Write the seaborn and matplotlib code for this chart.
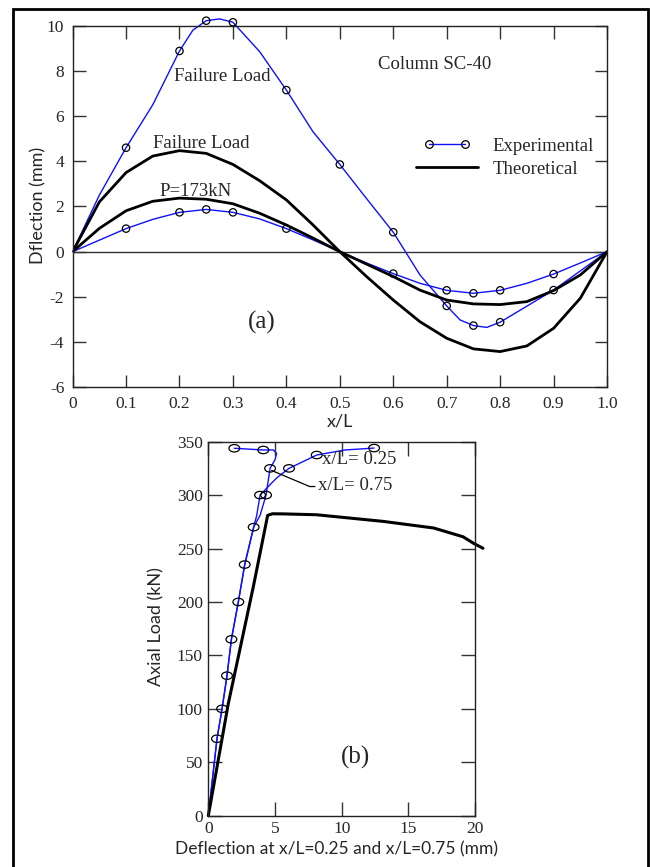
import matplotlib
matplotlib.use("Agg")
import matplotlib.pyplot as plt
import seaborn as sns
from matplotlib.lines import Line2D
from matplotlib.legend_handler import HandlerLine2DCompound
from matplotlib.patches import Rectangle
from matplotlib.path import Path
from matplotlib.transforms import Affine2D

# (a) 柱 SC-40 沿長度的撓度分佈
x_theo = [0, 0.05, 0.1, 0.15, 0.2, 0.25, 0.3, 0.35, 0.4, 0.45, 0.5,
          0.55, 0.6, 0.65, 0.7, 0.75, 0.8, 0.85, 0.9, 0.95, 1.0]
theo_fail = [0, 2.2, 3.5, 4.23, 4.47, 4.35, 3.86, 3.14, 2.29, 1.18, 0,
             -1.1, -2.14, -3.1, -3.83, -4.3, -4.42, -4.17, -3.39, -2.06, 0]
theo_173 = [0, 1.03, 1.81, 2.23, 2.37, 2.32, 2.12, 1.7, 1.18, 0.6, 0,
            -0.55, -1.1, -1.7, -2.14, -2.31, -2.34, -2.21, -1.72, -1.03, 0]

x_exp_fail = [0, 0.05, 0.1, 0.15, 0.2, 0.225, 0.25, 0.275, 0.3, 0.35, 0.4, 0.45, 0.5,
              0.55, 0.6, 0.65, 0.7, 0.725, 0.75, 0.775, 0.8, 0.85, 0.9, 0.95, 1.0]
exp_fail = [0, 2.5, 4.6, 6.5, 8.88, 9.8, 10.22, 10.3, 10.15, 8.85, 7.15, 5.3, 3.86,
            2.35, 0.86, -1.03, -2.4, -3.02, -3.27, -3.35, -3.12, -2.41, -1.7, -0.85, 0]
mk_fail_x = [0.1, 0.2, 0.25, 0.3, 0.4, 0.5, 0.6, 0.7, 0.75, 0.8, 0.9]
mk_fail_y = [4.6, 8.88, 10.22, 10.15, 7.15, 3.86, 0.86, -2.4, -3.27, -3.12, -1.7]

x_exp_173 = [0, 0.1, 0.15, 0.2, 0.25, 0.3, 0.35, 0.4, 0.45, 0.5,
             0.55, 0.6, 0.65, 0.7, 0.75, 0.8, 0.85, 0.9, 0.95, 1.0]
exp_173 = [0, 1.02, 1.43, 1.74, 1.87, 1.74, 1.45, 1.02, 0.52, 0,
           -0.5, -0.97, -1.4, -1.71, -1.84, -1.71, -1.4, -0.99, -0.5, 0]
mk_173_x = [0.1, 0.2, 0.25, 0.3, 0.4, 0.6, 0.7, 0.75, 0.8, 0.9]
mk_173_y = [1.02, 1.74, 1.87, 1.74, 1.02, -0.97, -1.71, -1.84, -1.71, -0.99]

xl_ticks = [0, 0.1, 0.2, 0.3, 0.4, 0.5, 0.6, 0.7, 0.8, 0.9, 1.0]
xl_labels = ["0", "0.1", "0.2", "0.3", "0.4", "0.5", "0.6", "0.7", "0.8", "0.9", "1.0"]

# (b) 軸向載重 vs 撓度
load_a = [0, 72, 100, 131, 165, 200, 235, 270, 281, 300, 316, 325, 337.5, 342.2, 344]
defl_a = [0, 0.65, 1.03, 1.4, 1.73, 2.25, 2.73, 3.4, 3.63, 3.88, 5.12, 6.05, 8.13, 10.25, 12.43]
load_b = [0, 72, 100, 131, 165, 200, 235, 270, 281, 300, 325, 333, 339, 342.2, 342.2, 343.8]
defl_b = [0, 0.65, 1.03, 1.4, 1.73, 2.25, 2.73, 3.4, 3.88, 4.33, 4.63, 5.0, 5.12, 4.88, 4.12, 1.95]
mk_defl = [0.65, 1.03, 1.4, 1.73, 2.25, 2.73, 3.4, 3.88, 4.33, 4.63, 6.05, 8.13, 12.43, 4.12, 1.95]
mk_load = [72, 100, 131, 165, 200, 235, 270, 300, 300, 325, 325, 337.5, 344, 342.2, 343.8]
theo_defl = [0, 1.5, 3.37, 4.45, 4.8, 5.6, 8.1, 10.6, 13.1, 16.9, 19.1, 19.9, 20.6]
theo_load = [0, 105, 214, 281, 282.5, 282.4, 281.6, 278.5, 275.4, 269.2, 261, 254.8, 250.2]

SERIF = "Liberation Serif"
SANS = "Lato"

sns.set_style("ticks")
plt.rcParams["font.family"] = [SERIF, "DejaVu Sans"]
plt.rcParams["axes.edgecolor"] = "#222222"
plt.rcParams["axes.linewidth"] = 1.0
plt.rcParams["axes.unicode_minus"] = False

fig = plt.figure(figsize=(6.5, 8.67), dpi=100)

# ---------- (a) ----------
ax1 = fig.add_axes([0.1117, 0.5533, 0.8222, 0.4171])
ax1.axhline(0, color="#333333", lw=1.0, zorder=1)
sns.lineplot(x=x_exp_fail, y=exp_fail, ax=ax1, color="#1010ff", lw=1.0,
             sort=False, estimator=None, legend=False)
ax1.lines[-1].set_clip_on(False)
sns.lineplot(x=x_exp_173, y=exp_173, ax=ax1, color="#1010ff", lw=1.0,
             sort=False, estimator=None, legend=False)
sns.lineplot(x=x_theo, y=theo_fail, ax=ax1, color="black", lw=2.0,
             sort=False, estimator=None, legend=False)
sns.lineplot(x=x_theo, y=theo_173, ax=ax1, color="black", lw=2.0,
             sort=False, estimator=None, legend=False)
sns.scatterplot(x=mk_fail_x, y=mk_fail_y, ax=ax1, marker="o", s=28,
                facecolor="none", edgecolor="black", linewidth=0.9, zorder=4)
ax1.collections[-1].set_clip_on(False)
sns.scatterplot(x=mk_173_x, y=mk_173_y, ax=ax1, marker="o", s=28,
                facecolor="none", edgecolor="black", linewidth=0.9, zorder=4)

ax1.set_xlim(0, 1)
ax1.set_ylim(-6, 10)
ax1.set_xticks(xl_ticks)
ax1.set_xticklabels(xl_labels)
ax1.set_yticks(range(-6, 11, 2))
ax1.tick_params(direction="in", length=9, width=1, top=True, right=True,
                labelsize=12.5, pad=6, color="#333333")
ax1.set_xlabel("x/L", family=SANS, fontsize=13)
ax1.set_ylabel("Dflection (mm)", family=SANS, fontsize=13)
ax1.xaxis.set_label_coords(0.5, -0.072)
ax1.yaxis.set_label_coords(-0.049, 0.504)

ax1.text(0.678, 8.26, "Column SC-40", ha="center", va="center", fontsize=13.5)
ax1.text(0.28, 7.74, "Failure Load", ha="center", va="center", fontsize=13.5)
ax1.text(0.24, 4.8, "Failure Load", ha="center", va="center", fontsize=13.5)
ax1.text(0.231, 2.65, "P=173kN", ha="center", va="center", fontsize=13.5)
ax1.text(0.354, -3.15, "(a)", ha="center", va="center", fontsize=18)

h_exp = Line2D([], [], color="#1010ff", lw=1.0, marker="o", ms=5.5,
               mfc="none", mec="black", mew=0.9)
h_theo = Line2D([], [], color="black", lw=2.0)
ax1.legend([h_exp, h_theo], ["Experimental", "Theoretical"], loc="upper left",
           bbox_to_anchor=(0.632, 0.69), frameon=False, handlelength=3.9,
           handletextpad=0.5, labelspacing=0.3, borderpad=0, borderaxespad=0,
           numpoints=2, prop={"family": SERIF, "size": 13.5},
           handler_map={h_exp: HandlerLine2DCompound(marker_pad=1.0)})

# ---------- (b) ----------
ax2 = fig.add_axes([0.3205, 0.0592, 0.4103, 0.4314])
sns.lineplot(x=defl_a, y=load_a, ax=ax2, color="#1010ff", lw=1.0,
             sort=False, estimator=None, legend=False)
sns.lineplot(x=defl_b, y=load_b, ax=ax2, color="#1010ff", lw=1.0,
             sort=False, estimator=None, legend=False)
sns.lineplot(x=theo_defl, y=theo_load, ax=ax2, color="black", lw=2.2,
             sort=False, estimator=None, legend=False)
ax2.lines[-1].set_clip_on(False)

ellipse = Path.unit_circle().transformed(Affine2D().scale(1.45, 1.0))
sns.scatterplot(x=mk_defl, y=mk_load, ax=ax2, marker=ellipse, s=60,
                facecolor="none", edgecolor="black", linewidth=0.9, zorder=4)

ax2.plot([4.75, 7.6, 8.0], [323, 308, 308], color="black", lw=0.9)
ax2.text(8.25, 308.5, "x/L= 0.75", ha="left", va="center", fontsize=13.5)
ax2.text(8.5, 333, "x/L= 0.25", ha="left", va="center", fontsize=13.5)
ax2.text(11.05, 54.3, "(b)", ha="center", va="center", fontsize=18)

ax2.set_xlim(0, 20)
ax2.set_ylim(0, 350)
ax2.set_xticks([0, 5, 10, 15, 20])
ax2.set_yticks(range(0, 351, 50))
ax2.tick_params(direction="in", length=10, width=1, top=True, right=True,
                labelsize=12.5, pad=4, color="#333333")
ax2.set_xlabel("Deflection at x/L=0.25 and x/L=0.75 (mm)", family=SANS, fontsize=12.5)
ax2.set_ylabel("Axial Load (kN)", family=SANS, fontsize=13)
ax2.xaxis.set_label_coords(0.479, -0.068)
ax2.yaxis.set_label_coords(-0.166, 0.505)

# 外框
fig.add_artist(Rectangle((13 / 650, -0.05), 635 / 650, 0.9896 + 0.05,
                         transform=fig.transFigure, fill=False,
                         edgecolor="black", lw=2.0))

fig.savefig("out.png", dpi=100)
